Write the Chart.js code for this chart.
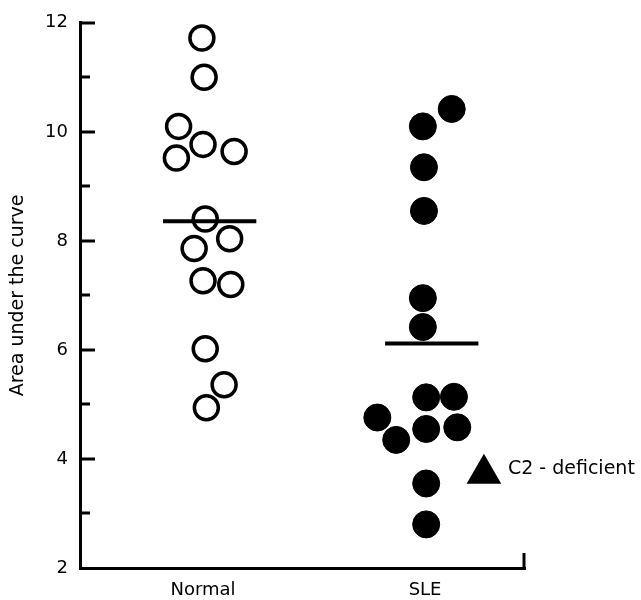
<!DOCTYPE html>
<html>
<head>
<meta charset="utf-8">
<script src="https://cdn.jsdelivr.net/npm/chart.js@4.4.1/dist/chart.umd.min.js"></script>
<style>
  html, body { margin: 0; padding: 0; background: #fff; }
  #wrap { width: 641px; height: 600px; }
</style>
</head>
<body>
<div id="wrap"><canvas id="myChart"></canvas></div>
<script>
// groups on the x axis (1 = Normal, 2 = SLE)
const groups = ['Normal', 'SLE'];

// Normal subjects (open circles): value and sideways jitter around the group
const normalValues = [11.72, 11.0, 10.1, 9.77, 9.52, 9.64, 8.4, 8.04, 7.86, 7.27, 7.2, 6.02, 5.36, 4.94];
const normalJitter = [-0.005, 0.005, -0.11, 0, -0.12, 0.14, 0.01, 0.12, -0.04, 0, 0.125, 0.01, 0.095, 0.015];

// SLE patients (filled circles)
const sleValues = [10.42, 10.1, 9.35, 8.55, 6.95, 6.42, 5.13, 5.14, 4.76, 4.55, 4.58, 4.35, 3.55, 2.8];
const sleJitter = [0.12, -0.01, -0.005, -0.005, -0.01, -0.01, 0.005, 0.13, -0.215, 0.005, 0.145, -0.13, 0.005, 0.005];

// C2-deficient patient (triangle)
const c2Value = [3.73];
const c2Jitter = [0.265];
const c2Label = 'C2 - deficient';

// group means (horizontal bars)
const groupMeans = [8.36, 6.12];

// y axis
const yMin = 2, yMax = 12;

const font = "'DejaVu Sans', sans-serif";

function toPoints(group, values, jitter) {
    return values.map((v, i) => ({ x: group + jitter[i], y: v }));
}

// mean bar: a short line from left to right of each group
function meanLine(group, mean) {
    return [{ x: group - 0.18, y: mean }, { x: group + 0.24, y: mean }];
}

// inward ticks, right end of x axis, label next to the triangle
const decorPlugin = {
    id: 'decor',
    afterDraw(chart) {
        const ctx = chart.ctx;
        const ys = chart.scales.y;
        const xs = chart.scales.x;
        ctx.save();
        ctx.strokeStyle = '#000';
        ctx.lineWidth = 3;
        ctx.lineCap = 'butt';
        for (let v = yMin + 1; v <= yMax; v++) {
            const py = Math.round(ys.getPixelForValue(v));
            const len = v % 2 === 0 ? 15 : 10;
            ctx.beginPath();
            ctx.moveTo(ys.right, py);
            ctx.lineTo(ys.right + len, py);
            ctx.stroke();
        }
        ctx.beginPath();
        ctx.moveTo(xs.right - 1, xs.top + 1);
        ctx.lineTo(xs.right - 1, xs.top - 15);
        ctx.stroke();

        const tri = chart.getDatasetMeta(4).data[0];
        ctx.fillStyle = '#000';
        ctx.font = "19px " + font;
        ctx.textAlign = 'left';
        ctx.textBaseline = 'middle';
        ctx.fillText(c2Label, tri.x + 24, tri.y - 5);
        ctx.restore();
    }
};

const config = {
    type: 'scatter',
    data: {
        datasets: [
            {
                type: 'line',
                data: meanLine(1, groupMeans[0]),
                borderColor: '#000',
                borderWidth: 4,
                pointRadius: 0,
                order: 0
            },
            {
                type: 'line',
                data: meanLine(2, groupMeans[1]),
                borderColor: '#000',
                borderWidth: 4,
                pointRadius: 0,
                order: 0
            },
            {
                data: toPoints(1, normalValues, normalJitter),
                pointStyle: 'circle',
                pointRadius: 12,
                backgroundColor: 'rgba(255,255,255,0)',
                borderColor: '#000',
                borderWidth: 3.5,
                order: 1
            },
            {
                data: toPoints(2, sleValues, sleJitter),
                pointStyle: 'circle',
                pointRadius: 13.5,
                backgroundColor: '#000',
                borderColor: '#000',
                borderWidth: 1,
                order: 1
            },
            {
                data: toPoints(2, c2Value, c2Jitter),
                pointStyle: 'triangle',
                pointRadius: 20,
                backgroundColor: '#000',
                borderColor: '#000',
                borderWidth: 0,
                order: 1
            }
        ]
    },
    options: {
        responsive: true,
        maintainAspectRatio: false,
        animation: false,
        clip: false,
        layout: { padding: { top: 18, right: 116, bottom: 0, left: 0 } },
        plugins: {
            legend: { display: false },
            tooltip: { enabled: false }
        },
        scales: {
            x: {
                type: 'linear',
                min: 0.446,
                max: 2.45,
                grid: { drawOnChartArea: false, drawTicks: false },
                border: { display: true, color: '#000', width: 3 },
                afterBuildTicks: (s) => { s.ticks = groups.map((g, i) => ({ value: i + 1 })); },
                afterFit: (s) => { s.height = 32; },
                ticks: {
                    color: '#000',
                    padding: 12,
                    font: { family: font, size: 18 },
                    callback: (value) => groups[Math.round(value) - 1] || ''
                }
            },
            y: {
                min: yMin,
                max: yMax,
                grid: { drawOnChartArea: false, drawTicks: false },
                border: { display: true, color: '#000', width: 3 },
                afterFit: (s) => { s.width = 80; },
                title: {
                    display: true,
                    text: 'Area under the curve',
                    color: '#000',
                    font: { family: font, size: 19 },
                    padding: { top: 7, bottom: 0 }
                },
                ticks: {
                    stepSize: 1,
                    autoSkip: false,
                    color: '#000',
                    padding: 12,
                    font: { family: font, size: 18 },
                    callback: (value) => value % 2 === 0 ? value : ''
                }
            }
        }
    },
    plugins: [decorPlugin]
};

new Chart(document.querySelector('#myChart').getContext('2d'), config);
</script>
</body>
</html>
